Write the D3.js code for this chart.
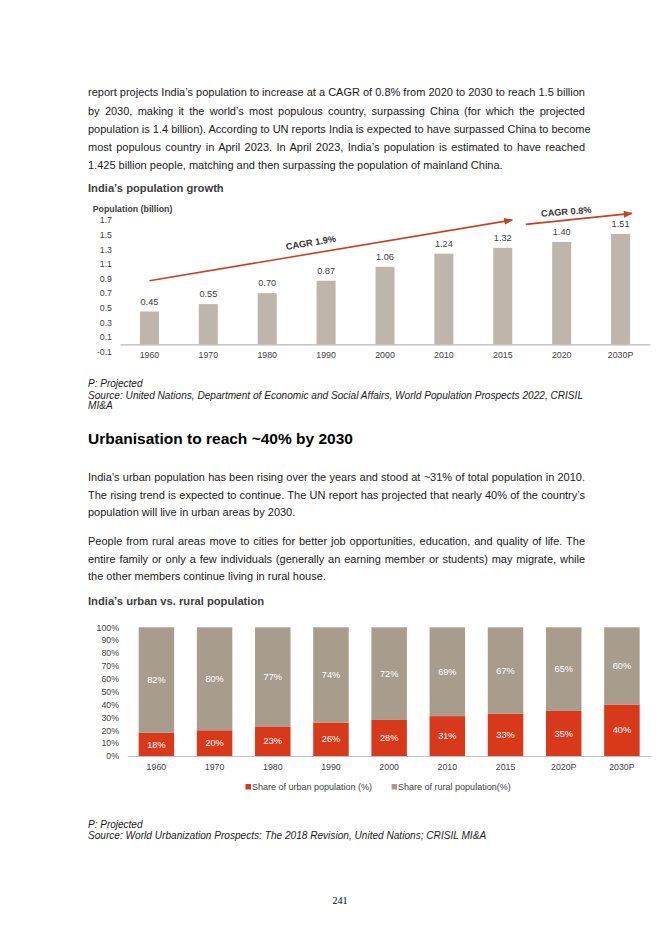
<!DOCTYPE html>
<html>
<head>
<meta charset="utf-8">
<script src="https://cdn.jsdelivr.net/npm/d3@7"></script>
<style>
  body { margin: 0; background: #fff; }
  #page { position: relative; width: 670px; height: 947px; background: #fff;
          font-family: "Liberation Sans", Arial, sans-serif; overflow: hidden; }
  #page svg { position: absolute; left: 0; top: 0; }
  .para { position: absolute; left: 88px; width: 497px; font-size: 11px; color: #1a1a1a; }
  .para .ln { display: block; white-space: nowrap; text-align: justify; text-align-last: justify; }
  .para .ln.last { text-align-last: left; }
</style>
</head>
<body>
<div id="page"></div>
<script>
// ---- data: population growth (billion)
const popYears = ['1960', '1970', '1980', '1990', '2000', '2010', '2015', '2020', '2030P'];
const popValues = [0.45, 0.55, 0.70, 0.87, 1.06, 1.24, 1.32, 1.40, 1.51];
const popTicks = [-0.1, 0.1, 0.3, 0.5, 0.7, 0.9, 1.1, 1.3, 1.5, 1.7];

// CAGR arrows: [category index, value] at each end
const cagrLabels = ['CAGR 1.9%', 'CAGR 0.8%'];
const cagrFrom = [[0, 0.87], [6.39, 1.64]];
const cagrTo = [[6.16, 1.70], [8.19, 1.79]];

// ---- data: urban vs rural share (%)
const urbYears = ['1960', '1970', '1980', '1990', '2000', '2010', '2015', '2020P', '2030P'];
const urbanShare = [18, 20, 23, 26, 28, 31, 33, 35, 40];
const ruralShare = [82, 80, 77, 74, 72, 69, 67, 65, 60];
const urbTicks = [0, 10, 20, 30, 40, 50, 60, 70, 80, 90, 100];
const seriesNames = ['Share of urban population (%)', 'Share of rural population(%)'];

// ---- page text
const para1 = [
  'report projects India’s population to increase at a CAGR of 0.8% from 2020 to 2030 to reach 1.5 billion',
  'by 2030, making it the world’s most populous country, surpassing China (for which the projected',
  'population is 1.4 billion). According to UN reports India is expected to have surpassed China to become',
  'most populous country in April 2023. In April 2023, India’s population is estimated  to have reached',
  '1.425 billion people, matching and then surpassing the population of mainland China.'
];
const para2 = [
  'India’s urban population has been rising over the years and stood at ~31% of total population in 2010.',
  'The rising trend is expected to continue. The UN report has projected that nearly 40% of the country’s',
  'population will live in urban areas by 2030.'
];
const para3 = [
  'People from rural areas move to cities for better job opportunities, education, and quality of life. The',
  'entire family or only a few individuals (generally an earning member or students) may migrate, while',
  'the other members continue living in rural house.'
];

const barCol = '#beb6ab';
const urbanCol = '#d8391a';
const ruralCol = '#a89c8d';
const arrowCol = '#c9401e';
const txtCol = '#404040';

const page = d3.select('#page');

function addPara(lines, top, lh){
  const p = page.append('div')
    .attr('class', 'para')
    .style('top', top + 'px')
    .style('line-height', lh + 'px');
  p.selectAll('span')
    .data(lines)
    .enter()
    .append('span')
    .attr('class', (d, i) => i == lines.length - 1 ? 'ln last' : 'ln')
    .text(d => d);
}

addPara(para1, 83.3, 18.2);
addPara(para2, 469.3, 17.5);
addPara(para3, 533.3, 17.4);

const svg = page.append('svg')
  .attr('width', 670)
  .attr('height', 947);

svg.append('defs')
  .append('marker')
  .attr('id', 'arrowHead')
  .attr('markerUnits', 'userSpaceOnUse')
  .attr('markerWidth', 9)
  .attr('markerHeight', 7)
  .attr('refX', 8)
  .attr('refY', 3.5)
  .attr('orient', 'auto')
  .append('path')
  .attr('d', 'M0,0L9,3.5L0,7Z')
  .style('fill', arrowCol);

function addText(str, x, y, size, opts = {}){
  return svg.append('text')
    .attr('x', x)
    .attr('y', y)
    .attr('dy', '0.35em')
    .style('font-size', size + 'px')
    .style('font-weight', opts.bold ? 'bold' : 'normal')
    .style('font-style', opts.italic ? 'italic' : 'normal')
    .style('font-family', opts.serif ? '"Liberation Serif", "Times New Roman", serif' : null)
    .style('text-anchor', opts.anchor || 'start')
    .style('fill', opts.fill || '#1a1a1a')
    .text(str);
}

// ================= chart 1: population growth =================
addText('India’s population growth', 88, 188.3, 11.2, {bold: true, fill: txtCol});
addText('Population (billion)', 92.7, 209.3, 8.8, {bold: true, fill: txtCol});

const x1 = d3.scaleBand()
  .domain(popYears)
  .range([120, 650])
  .paddingInner(0.677)
  .paddingOuter(0.3385);

const y1 = d3.scaleLinear()
  .domain([-0.1, 1.7])
  .range([351.7, 220]);

const c1 = svg.append('g').attr('class', 'popChart');

const yAx1 = c1.append('g')
  .attr('transform', 'translate(120,0)')
  .call(d3.axisLeft(y1).tickValues(popTicks).tickFormat(d => d.toFixed(1)).tickSize(0).tickPadding(8));
yAx1.select('.domain').remove();

const xAx1 = c1.append('g')
  .attr('transform', `translate(0,${y1(0)})`)
  .call(d3.axisBottom(x1).tickSize(0).tickSizeOuter(0).tickPadding(7.6));
xAx1.select('.domain').style('stroke', '#a6a6a6');

c1.selectAll('.tick text')
  .style('font-family', '"Liberation Sans", Arial, sans-serif')
  .style('font-size', '8.8px')
  .style('fill', txtCol);

c1.append('g')
  .selectAll('rect')
  .data(popValues)
  .enter()
  .append('rect')
  .attr('x', (d, i) => x1(popYears[i]))
  .attr('y', d => y1(d))
  .attr('width', x1.bandwidth())
  .attr('height', d => y1(0) - y1(d))
  .style('fill', barCol);

c1.append('g')
  .selectAll('text')
  .data(popValues)
  .enter()
  .append('text')
  .attr('x', (d, i) => x1(popYears[i]) + x1.bandwidth() / 2)
  .attr('y', d => y1(d) - 10)
  .attr('dy', '0.35em')
  .style('text-anchor', 'middle')
  .style('font-size', '9.2px')
  .style('fill', txtCol)
  .text(d => d3.format('.2f')(d));

// CAGR arrows, positioned through a category-index scale
const xIdx = d3.scaleLinear()
  .domain([0, popYears.length - 1])
  .range([x1(popYears[0]) + x1.bandwidth() / 2, x1(popYears[popYears.length - 1]) + x1.bandwidth() / 2]);

cagrLabels.forEach((lab, i) => {
  const ax = xIdx(cagrFrom[i][0]), ay = y1(cagrFrom[i][1]);
  const bx = xIdx(cagrTo[i][0]), by = y1(cagrTo[i][1]);
  c1.append('line')
    .attr('x1', ax).attr('y1', ay)
    .attr('x2', bx).attr('y2', by)
    .style('stroke', arrowCol)
    .style('stroke-width', 1.6)
    .attr('marker-end', 'url(#arrowHead)');

  const ang = Math.atan2(by - ay, bx - ax);
  const t = i == 0 ? 0.45 : 0.39;
  const off = i == 0 ? 11 : 8.5;
  const mx = ax + (bx - ax) * t + Math.sin(ang) * off;
  const my = ay + (by - ay) * t - Math.cos(ang) * off;
  c1.append('text')
    .attr('transform', `translate(${mx},${my}) rotate(${ang * 180 / Math.PI * (i == 0 ? 1 : 0.75)})`)
    .attr('dy', '0.35em')
    .style('text-anchor', 'middle')
    .style('font-size', '9.2px')
    .style('font-weight', 'bold')
    .style('fill', '#333')
    .text(lab);
});

addText('P: Projected', 88, 383.3, 10, {italic: true});
addText('Source: United Nations, Department of Economic and Social Affairs, World Population Prospects 2022, CRISIL', 88, 395, 10.1, {italic: true});
addText('MI&A', 88, 405.7, 10.1, {italic: true});

addText('Urbanisation to reach ~40% by 2030', 88, 438.3, 15.5, {bold: true, fill: '#000'});

// ================= chart 2: urban vs rural =================
addText('India’s urban vs. rural population', 88, 600.7, 11.2, {bold: true, fill: txtCol});

const urbRows = urbYears.map((yr, i) => ({year: yr, urban: urbanShare[i], rural: ruralShare[i]}));
const stacked = d3.stack().keys(['urban', 'rural'])(urbRows);

const x2 = d3.scaleBand()
  .domain(urbYears)
  .range([127.3, 651])
  .paddingInner(0.39)
  .paddingOuter(0.195);

const y2 = d3.scaleLinear()
  .domain([0, 100])
  .range([756, 627.3]);

const c2 = svg.append('g').attr('class', 'urbChart');

const yAx2 = c2.append('g')
  .attr('transform', 'translate(128,0)')
  .call(d3.axisLeft(y2).tickValues(urbTicks).tickFormat(d => d + '%').tickSize(0).tickPadding(9));
yAx2.select('.domain').remove();

const segCols = [urbanCol, ruralCol];

const layers = c2.append('g')
  .selectAll('g')
  .data(stacked)
  .enter()
  .append('g')
  .style('fill', (d, i) => segCols[i]);

layers.selectAll('rect')
  .data(d => d)
  .enter()
  .append('rect')
  .attr('x', d => x2(d.data.year))
  .attr('y', d => y2(d[1]))
  .attr('width', x2.bandwidth())
  .attr('height', d => y2(d[0]) - y2(d[1]));

layers.selectAll('text')
  .data(d => d)
  .enter()
  .append('text')
  .attr('x', d => x2(d.data.year) + x2.bandwidth() / 2)
  .attr('y', d => (y2(d[0]) + y2(d[1])) / 2)
  .attr('dy', '0.35em')
  .style('text-anchor', 'middle')
  .style('font-size', '9.2px')
  .style('fill', '#fff')
  .text(d => (d[1] - d[0]) + '%');

const xAx2 = c2.append('g')
  .attr('transform', `translate(0,${y2(0)})`)
  .call(d3.axisBottom(x2).tickSize(0).tickSizeOuter(0).tickPadding(7.7));
xAx2.select('.domain').style('stroke', '#bfbfbf');

c2.selectAll('.tick text')
  .style('font-family', '"Liberation Sans", Arial, sans-serif')
  .style('font-size', '8.8px')
  .style('fill', txtCol);

// legend
const leg = c2.append('g').attr('class', 'legend');
let legX = 245.5;
seriesNames.forEach((nm, i) => {
  leg.append('rect')
    .attr('x', legX)
    .attr('y', 784)
    .attr('width', 5.5)
    .attr('height', 5.5)
    .style('fill', segCols[i]);
  const t = leg.append('text')
    .attr('x', legX + 6.5)
    .attr('y', 786.7)
    .attr('dy', '0.35em')
    .style('font-size', '9px')
    .style('fill', txtCol)
    .text(nm);
  legX += 6.5 + t.node().getComputedTextLength() + 19.5;
});

addText('P: Projected', 88, 824, 10, {italic: true});
addText('Source: World Urbanization Prospects: The 2018 Revision, United Nations; CRISIL MI&A', 88, 835.7, 10.1, {italic: true});

addText('241', 340, 900, 10, {serif: true, anchor: 'middle', fill: '#000'});
</script>
</body>
</html>
